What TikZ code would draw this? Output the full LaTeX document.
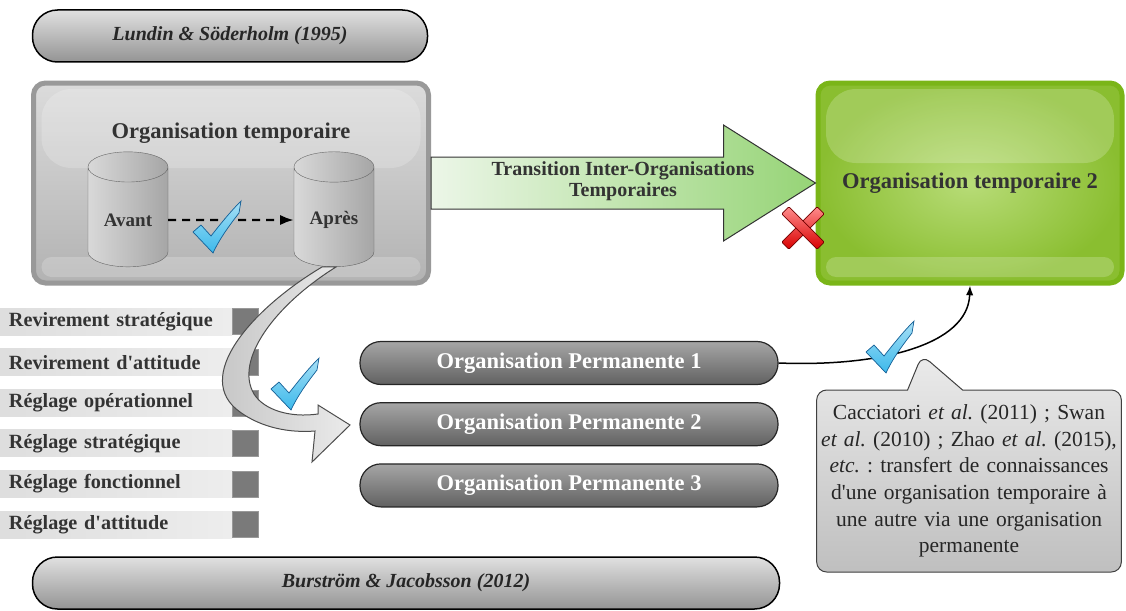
\documentclass[tikz,border=0pt]{standalone}
\usepackage{fontspec}
\setmainfont{Liberation Serif}[Ligatures=TeXOff]
\usetikzlibrary{arrows.meta, shapes.geometric, shapes.callouts, positioning, calc}
\frenchspacing

\definecolor{limeborder}{RGB}{122,181,24}
\definecolor{limeinner}{RGB}{184,220,120}
\definecolor{limeouter}{RGB}{138,190,48}
\definecolor{arrowgreen}{RGB}{150,212,118}
\definecolor{arrowpale}{RGB}{236,246,232}
\definecolor{tickblue}{RGB}{60,185,235}
\definecolor{tickdark}{RGB}{20,95,150}

\tikzset{
  pillbox/.style={draw=black, line width=1.5pt, rounded corners=25pt, top color=black!12, bottom color=black!42,
    minimum width=395pt, minimum height=52pt, text=black!85, font=\fontsize{20}{22}\selectfont\bfseries\itshape},
  permbox/.style={draw=black!85, line width=1.2pt, rounded corners=21pt, top color=black!35, bottom color=black!62,
    minimum width=418pt, minimum height=43pt, text=white, font=\fontsize{22.5}{24}\selectfont\bfseries},
  itembar/.style={left color=black!13, right color=black!7, minimum width=232pt, minimum height=27pt,
    text width=214pt, align=left, inner xsep=9pt, inner ysep=0pt, text=black!80, font=\fontsize{20.2}{22}\selectfont\bfseries},
  itemsq/.style={fill=black!52, draw=black!40, minimum size=26pt, inner sep=0pt},
  drum/.style={cylinder, shape border rotate=90, aspect=0.55, draw=black!60, left color=black!15, right color=black!35,
    minimum width=80pt, minimum height=115pt, text=black!80, font=\fontsize{19}{22}\selectfont\bfseries},
  glossy/.style={path picture={
    \fill[white, opacity=0.2, rounded corners=30pt] ($(path picture bounding box.north west)+(8,6)$) rectangle
      ($(path picture bounding box.north east)+(-8,#1)$);
    \fill[white, opacity=0.2, rounded corners=10pt] ($(path picture bounding box.south west)+(8,-6)$) rectangle
      ($(path picture bounding box.south east)+(-8,-26)$);}},
  tick/.pic={\draw[draw=tickdark, line width=0.7pt, top color=tickblue!45!white, bottom color=tickblue]
    (-24,4) -- (-16,-3) -- (-6,8) .. controls (5,-6) and (14,-17) .. (24,-27) -- (22,-15)
    .. controls (12,-2) and (3,10) .. (-4,25) -- cycle;},
  cross/.pic={\foreach \a in {45,-45} \draw[draw=red!45!black, line width=0.7pt, top color=red!45, bottom color=red!85!black,
    rotate=\a, rounded corners=1pt] (-25,-5) rectangle (25,5);}
}

\begin{document}
\begin{tikzpicture}[x=1pt, y=-1pt, >=Latex]
\useasboundingbox (0,0) rectangle (1126,610);

% references
\node (lundin) [pillbox] at (230,36) {Lundin \& Söderholm (1995)};
\node (burstrom) [pillbox, minimum width=747pt] at (406,583) {Burström \& Jacobsson (2012)};

% temporary organisation
\node (orgtemp) [draw=black!40, line width=5pt, rounded corners=12pt, top color=black!14, bottom color=black!30,
  minimum width=395pt, minimum height=200pt, glossy=85] at (231,183) {};
\node (orgtemp_title) [text=black!80, font=\fontsize{22.5}{24}\selectfont\bfseries] at (231,133) {Organisation temporaire};
\node (avant) [drum] at (128,220) {Avant};
\node (apres) [drum] at (334,220) {Après};
\draw[->, dash pattern=on 8pt off 6pt, line width=2.4pt] (avant) -- (apres);
\pic at (217,228) {tick};

% second temporary organisation
\node (orgtemp2) [draw=limeborder, line width=5pt, rounded corners=12pt, inner color=limeinner, outer color=limeouter,
  minimum width=304pt, minimum height=200pt, glossy=80,
  text=black!80, font=\fontsize{22.5}{24}\selectfont\bfseries] at (970,183) {Organisation temporaire 2};

% transition arrow
\draw[draw=black!80, line width=1pt, left color=arrowpale, right color=arrowgreen]
  ($(orgtemp.east)+(0,-26)$) -- ($(orgtemp2.west)+(-92,-26)$) -- ($(orgtemp2.west)+(-92,-58)$)
  -- (orgtemp2.west) -- ($(orgtemp2.west)+(-92,58)$) -- ($(orgtemp2.west)+(-92,26)$)
  -- ($(orgtemp.east)+(0,26)$) -- cycle;
\node (transition) [align=center, text=black!80, font=\fontsize{20}{21}\selectfont\bfseries] at (623,181)
  {Transition Inter-Organisations\\Temporaires};
\pic at (803,228) {cross};

% adjustment list
\foreach \txt [count=\i] in {Revirement stratégique, Revirement d'attitude, Réglage opérationnel,
    Réglage stratégique, Réglage fonctionnel, Réglage d'attitude} {
  \node (item\i) [itembar] at (116,{281+40.6*\i}) {\txt};
  \node (sq\i) [itemsq, right=0pt of item\i] {};
}

% permanent organisations
\node (perm1) [permbox] at (569,363) {Organisation Permanente 1};
\node (perm2) [permbox, below=17pt of perm1] {Organisation Permanente 2};
\node (perm3) [permbox, below=17pt of perm2] {Organisation Permanente 3};

% curved transfer arrow
\draw[draw=black!70, line width=1pt, left color=black!25, right color=black!8]
  ($(apres.south)+(-12,0)$) .. controls (250,310) and (192,378) .. (240,412)
  .. controls (262,428) and (290,433) .. (315,431) -- (312,462) -- (350,425) -- (318,405) -- (318,414)
  .. controls (290,418) and (264,410) .. (254,394) .. controls (234,360) and (275,305) .. ($(apres.south)+(2,0)$) -- cycle;
\pic at (295,385) {tick};

% knowledge transfer
\draw[->, line width=1.5pt] (perm1.east) .. controls (880,367) and (968,345) .. (orgtemp2.south);
\pic at (890,348) {tick};
\node (note) [rectangle callout, callout absolute pointer={(922,355)}, callout pointer width=55pt,
  draw=black!75, line width=1pt, rounded corners=10pt, top color=black!8, bottom color=black!25,
  minimum width=302pt, minimum height=182pt, text width=298pt, align=center, text=black!85,
  font=\fontsize{21.5}{26.6}\selectfont] at (969,481)
  {Cacciatori \textit{et al.} (2011) ; Swan\\ \textit{et al.} (2010) ; Zhao \textit{et al.} (2015),\\
   \textit{etc.} : transfert de connaissances\\ d'une organisation temporaire à\\ une autre via une organisation\\ permanente};
\end{tikzpicture}
\end{document}
